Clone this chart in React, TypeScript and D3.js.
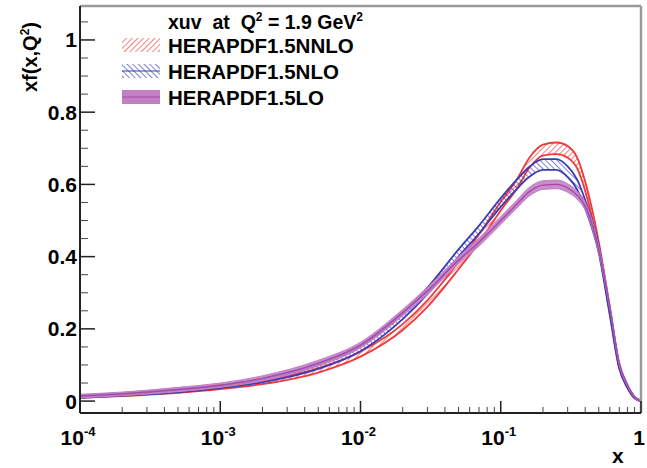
import React from 'react'
import * as d3 from 'd3'

// x grid (log scale) and the three fits
const xGrid = [1e-4, 2e-4, 5e-4, 1e-3, 2e-3, 5e-3, 0.01, 0.02, 0.03, 0.05, 0.07, 0.1, 0.13, 0.16, 0.2, 0.25, 0.3, 0.35, 0.4, 0.5, 0.6, 0.7, 0.8, 0.9, 1.0]

const nnlo = [0.012, 0.017, 0.027, 0.037, 0.052, 0.085, 0.13, 0.205, 0.27, 0.375, 0.45, 0.54, 0.6, 0.66, 0.695, 0.7, 0.69, 0.66, 0.595, 0.43, 0.25, 0.095, 0.04, 0.01, 0.0]
const nnloErr = [0.003, 0.003, 0.004, 0.004, 0.005, 0.006, 0.007, 0.008, 0.009, 0.01, 0.011, 0.012, 0.013, 0.014, 0.015, 0.016, 0.016, 0.015, 0.013, 0.011, 0.008, 0.005, 0.003, 0.002, 0.001]

const nlo = [0.012, 0.018, 0.028, 0.04, 0.057, 0.095, 0.145, 0.235, 0.305, 0.41, 0.475, 0.55, 0.6, 0.635, 0.655, 0.655, 0.635, 0.6, 0.545, 0.42, 0.245, 0.095, 0.04, 0.01, 0.0]
const nloErr = [0.003, 0.003, 0.004, 0.004, 0.005, 0.006, 0.007, 0.008, 0.009, 0.01, 0.011, 0.012, 0.013, 0.014, 0.015, 0.015, 0.015, 0.014, 0.012, 0.01, 0.008, 0.005, 0.003, 0.002, 0.001]

const lo = [0.014, 0.02, 0.032, 0.044, 0.063, 0.105, 0.155, 0.245, 0.305, 0.39, 0.44, 0.5, 0.545, 0.58, 0.598, 0.6, 0.59, 0.57, 0.54, 0.42, 0.26, 0.105, 0.045, 0.012, 0.0]
const loErr = [0.005, 0.005, 0.006, 0.006, 0.007, 0.008, 0.008, 0.009, 0.01, 0.01, 0.011, 0.011, 0.011, 0.012, 0.012, 0.012, 0.012, 0.011, 0.011, 0.01, 0.008, 0.006, 0.004, 0.003, 0.002]

const yMajor = [0, 0.2, 0.4, 0.6, 0.8, 1]
const yMajorLabels = ['0', '0.2', '0.4', '0.6', '0.8', '1']
const xMajor = [1e-4, 1e-3, 1e-2, 1e-1, 1]
const xMajorExp = ['-4', '-3', '-2', '-1', '']

const legendLabels = ['HERAPDF1.5NNLO', 'HERAPDF1.5NLO', 'HERAPDF1.5LO']

const W = 647
const H = 468
const frame = { left: 80, right: 641, top: 6, bottom: 413 }
const font = "'Liberation Sans', Arial, Helvetica, sans-serif"

const red = '#f03a3a'
const blue = '#3c3cb4'
const purpleFill = '#c37fc6'
const purpleLine = '#a24aa8'

const App = () => {
     const xScale = d3.scaleLog().domain([1e-4, 1]).range([frame.left, frame.right])
     const yScale = d3.scaleLinear().domain([-0.033, 1.094]).range([frame.bottom, frame.top])

     const band = (c: number[], e: number[]) =>
          d3
               .area<number>()
               .x((_, i) => xScale(xGrid[i]))
               .y0((_, i) => yScale(c[i] - e[i]))
               .y1((_, i) => yScale(c[i] + e[i]))
               .curve(d3.curveMonotoneX)(c.map((_, i) => i)) as string
     const edge = (c: number[], e: number[], s: number) =>
          d3
               .line<number>()
               .x((_, i) => xScale(xGrid[i]))
               .y((_, i) => yScale(c[i] + s * e[i]))
               .curve(d3.curveMonotoneX)(c.map((_, i) => i)) as string

     const yMinor = d3.range(0, 1.09, 0.05).filter((v) => yMajor.every((m) => Math.abs(m - v) > 1e-6))
     const xMinor: number[] = []
     for (let p = -4; p < 0; p++) for (let k = 2; k <= 9; k++) xMinor.push(k * Math.pow(10, p))

     const legY = [45, 71, 97]

     return (
          <svg width={W} height={H} style={{ position: 'absolute', left: 0, top: 0, background: '#fff' }}>
               <defs>
                    <pattern id="hatchRed" patternUnits="userSpaceOnUse" width="4" height="4" patternTransform="rotate(45)">
                         <line x1="0" y1="0" x2="0" y2="4" stroke={red} strokeWidth="1.3" />
                    </pattern>
                    <pattern id="hatchBlue" patternUnits="userSpaceOnUse" width="4" height="4" patternTransform="rotate(-45)">
                         <line x1="0" y1="0" x2="0" y2="4" stroke={blue} strokeWidth="1.3" />
                    </pattern>
               </defs>

               {/* NNLO band: hatched */}
               <path d={band(nnlo, nnloErr)} fill="url(#hatchRed)" stroke="none" />
               <path d={edge(nnlo, nnloErr, 1)} fill="none" stroke={red} strokeWidth={1.8} />
               <path d={edge(nnlo, nnloErr, -1)} fill="none" stroke={red} strokeWidth={1.8} />

               {/* NLO band: hatched */}
               <path d={band(nlo, nloErr)} fill="url(#hatchBlue)" stroke="none" />
               <path d={edge(nlo, nloErr, 1)} fill="none" stroke={blue} strokeWidth={1.8} />
               <path d={edge(nlo, nloErr, -1)} fill="none" stroke={blue} strokeWidth={1.8} />

               {/* LO band: solid */}
               <path d={band(lo, loErr)} fill={purpleFill} fillOpacity={0.9} stroke={purpleFill} strokeWidth={1} />
               <path d={edge(lo, loErr, 0)} fill="none" stroke={purpleLine} strokeWidth={1.4} />

               {/* frame */}
               <line x1={frame.left} x2={frame.right} y1={frame.top} y2={frame.top} stroke="#9a9a9a" strokeWidth={2.5} />
               <line x1={frame.right} x2={frame.right} y1={frame.top} y2={frame.bottom} stroke="#9a9a9a" strokeWidth={2.5} />
               <line x1={frame.left} x2={frame.left} y1={frame.top} y2={frame.bottom} stroke="#222" strokeWidth={2} />
               <line x1={frame.left} x2={frame.right} y1={frame.bottom} y2={frame.bottom} stroke="#222" strokeWidth={2} />

               {/* y ticks */}
               {yMajor.map((v, i) => (
                    <g key={'ym' + i}>
                         <line x1={frame.left} x2={frame.left + 15} y1={yScale(v)} y2={yScale(v)} stroke="#222" strokeWidth={1.5} />
                         <text x={77} y={yScale(v) + 7.5} textAnchor="end" fontFamily={font} fontWeight="bold" fontSize={21}>
                              {yMajorLabels[i]}
                         </text>
                    </g>
               ))}
               {yMinor.map((v, i) => (
                    <line key={'yn' + i} x1={frame.left} x2={frame.left + 8} y1={yScale(v)} y2={yScale(v)} stroke="#444" strokeWidth={1} />
               ))}

               {/* x ticks */}
               {xMajor.map((v, i) => (
                    <g key={'xm' + i}>
                         <line x1={xScale(v)} x2={xScale(v)} y1={frame.bottom} y2={frame.bottom - 12} stroke="#222" strokeWidth={1.5} />
                         {xMajorExp[i] ? (
                              <text x={xScale(v) - 2} y={445} textAnchor="middle" fontFamily={font} fontWeight="bold" fontSize={21}>
                                   10<tspan fontSize={13} dy={-9}>{xMajorExp[i]}</tspan>
                              </text>
                         ) : (
                              <text x={xScale(v) - 2} y={445} textAnchor="middle" fontFamily={font} fontWeight="bold" fontSize={21}>
                                   1
                              </text>
                         )}
                    </g>
               ))}
               {xMinor.map((v, i) => (
                    <line key={'xn' + i} x1={xScale(v)} x2={xScale(v)} y1={frame.bottom} y2={frame.bottom - 6} stroke="#444" strokeWidth={1} />
               ))}

               {/* axis titles */}
               <text x={612} y={463} fontFamily={font} fontWeight="bold" fontSize={21}>
                    x
               </text>
               <text transform="translate(37,92) rotate(-90)" fontFamily={font} fontWeight="bold" fontSize={20}>
                    xf(x,Q<tspan fontSize={12} dy={-8}>2</tspan>
                    <tspan dy={8}>)</tspan>
               </text>

               {/* legend */}
               <text x={168} y={29} fontFamily={font} fontWeight="bold" fontSize={19.5}>
                    xuv{'\u00a0\u00a0'}at{'\u00a0\u00a0'}Q<tspan fontSize={12} dy={-8}>2</tspan>
                    <tspan dy={8}> = 1.9 GeV</tspan>
                    <tspan fontSize={12} dy={-8}>2</tspan>
               </text>
               <rect x={122} y={legY[0] - 7} width={38} height={14} fill="url(#hatchRed)" />
               <rect x={122} y={legY[1] - 7} width={38} height={14} fill="url(#hatchBlue)" />
               <line x1={122} x2={160} y1={legY[1]} y2={legY[1]} stroke={blue} strokeWidth={1} />
               <rect x={122} y={legY[2] - 7} width={38} height={14} fill={purpleFill} />
               <line x1={122} x2={160} y1={legY[2]} y2={legY[2]} stroke={purpleLine} strokeWidth={1.2} />
               {legendLabels.map((t, i) => (
                    <text key={t} x={168} y={legY[i] + 8} fontFamily={font} fontWeight="bold" fontSize={20.5}>
                         {t}
                    </text>
               ))}
          </svg>
     )
}

export default App
